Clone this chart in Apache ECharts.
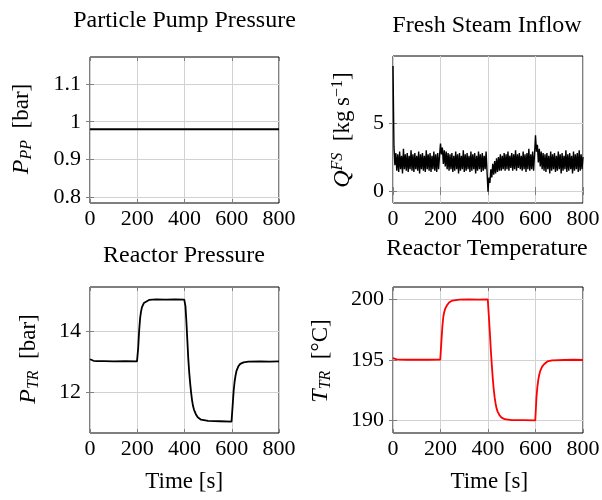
<!DOCTYPE html>
<html><head><meta charset="utf-8">
<script src="https://cdn.jsdelivr.net/npm/echarts@6/dist/echarts.min.js"></script>
<style>html,body{margin:0;padding:0;background:#fff}#c{width:602px;height:500px}</style>
</head><body><div id="c"></div>
<script>
const FONT = 'Liberation Serif';
const titles = ['Particle Pump Pressure', 'Fresh Steam Inflow', 'Reactor Pressure', 'Reactor Temperature'];
const xLabel = 'Time [s]';
const xTicks = [0, 200, 400, 600, 800];
const ppTicks = [0.8, 0.9, 1, 1.1];
const fsTicks = [0, 5];
const ptrTicks = [12, 14];
const ttrTicks = [190, 195, 200];

const ppTime = [0, 800];
const ppValues = [0.98, 0.98];

const fsStep = 4; // seconds between Fresh Steam samples
const fsValues = [
  9.2, 3.3, 1.9, 2.8, 1.5, 2.7, 1.4, 2.9, 1.6, 2.6,
  1.3, 3.1, 1.6, 2.7, 1.5, 2.8, 1.4, 2.6, 1.6, 3.0,
  1.5, 2.7, 1.4, 2.8, 1.6, 2.6, 1.5, 2.9, 1.3, 2.7,
  1.6, 2.8, 1.5, 2.6, 1.4, 3.0, 1.6, 2.7, 1.5, 2.8,
  1.4, 2.6, 1.6, 2.9, 1.5, 2.7, 1.4, 2.8, 1.6, 2.6,
  3.5, 2.7, 3.2, 2.0, 3.0, 1.8, 2.9, 1.6, 2.8, 1.5,
  2.7, 1.6, 2.8, 1.4, 2.6, 1.5, 2.9, 1.6, 2.7, 1.3,
  2.8, 1.5, 2.6, 1.6, 3.0, 1.4, 2.7, 1.5, 2.8, 1.6,
  2.6, 1.4, 2.9, 1.5, 2.7, 1.6, 2.8, 1.3, 2.6, 1.5,
  2.9, 1.6, 2.7, 1.4, 2.8, 1.5, 2.6, 1.6, 2.9, 1.4,
  -0.05, 1.0, 0.6, 1.6, 1.0, 2.0, 1.2, 2.2, 1.3, 2.4,
  1.4, 2.5, 1.5, 2.7, 1.5, 2.6, 1.6, 2.8, 1.5, 2.7,
  1.6, 2.9, 1.5, 2.6, 1.7, 2.8, 1.5, 2.7, 1.6, 3.0,
  1.5, 2.7, 1.7, 2.8, 1.6, 2.6, 1.5, 2.9, 1.6, 2.7,
  1.4, 2.8, 1.6, 3.1, 1.5, 2.7, 1.6, 2.9, 1.5, 2.7,
  4.1, 2.9, 3.4, 2.1, 3.1, 1.8, 2.9, 1.6, 2.8, 1.5,
  2.7, 1.4, 2.8, 1.6, 2.6, 1.3, 2.9, 1.5, 2.7, 1.6,
  2.8, 1.4, 2.6, 1.5, 2.9, 1.6, 2.7, 1.3, 2.8, 1.5,
  2.6, 1.6, 3.0, 1.4, 2.7, 1.5, 2.8, 1.6, 2.6, 1.3,
  2.9, 1.5, 2.7, 1.6, 2.8, 1.4, 3.0, 1.5, 2.7, 1.6,
  2.5
];

const stepTime = [0, 5, 15, 30, 60, 100, 150, 199, 200, 204, 208, 212, 216, 220, 228, 236, 250, 280, 320, 360, 399,
  400, 404, 408, 412, 416, 420, 424, 428, 432, 436, 440, 448, 456, 470, 500, 550, 599,
  600, 604, 608, 612, 616, 620, 628, 636, 650, 670, 720, 760, 800];
const ptrValues = [13.08, 13.05, 13.03, 13.02, 13.02, 13.01, 13.02, 13.01, 13.02, 13.45, 14.0, 14.4, 14.62, 14.77, 14.9, 14.96, 15.0, 15.02, 15.01, 15.02, 15.01,
  15.0, 14.8, 14.3, 13.7, 13.1, 12.65, 12.3, 12.0, 11.75, 11.57, 11.45, 11.3, 11.2, 11.12, 11.08, 11.07, 11.06,
  11.07, 11.6, 12.05, 12.35, 12.55, 12.7, 12.85, 12.93, 12.98, 13.0, 13.01, 13.0, 13.01];
const ttrValues = [195.15, 195.08, 195.05, 195.03, 195.02, 195.03, 195.02, 195.03, 195.03, 196.6, 197.8, 198.6, 199.0, 199.25, 199.55, 199.75, 199.92, 200.0, 200.02, 200.0, 200.02,
  200.0, 198.5, 197.2, 195.8, 194.6, 193.5, 192.6, 191.9, 191.4, 191.0, 190.75, 190.45, 190.25, 190.1, 190.03, 190.02, 190.0,
  190.02, 191.9, 192.8, 193.4, 193.8, 194.1, 194.45, 194.65, 194.88, 194.97, 195.0, 195.02, 195.0];

const grids = [
  {left: 90, top: 57, width: 189, height: 146},
  {left: 393, top: 56, width: 190, height: 147},
  {left: 90, top: 287, width: 189, height: 146},
  {left: 393, top: 287, width: 190, height: 146}
];
const yRanges = [[0.784, 1.172], [-0.88, 9.93], [10.69, 15.42], [188.96, 201.04]];
const yTicks = [ppTicks, fsTicks, ptrTicks, ttrTicks];

const pairs = (t, v) => v.map((y, i) => [t[i], y]);
const fsData = fsValues.map((y, i) => [i * fsStep, y]);

const tickStyle = {show: true, inside: true, length: 4, lineStyle: {color: '#7f7f7f', width: 1}};
const gridLine = {show: true, lineStyle: {color: '#d2d2d2', width: 1}};
const lab = {fontFamily: FONT, fontSize: 22, color: '#000'};

const xAxes = [], yAxes = [];
grids.forEach((g, i) => {
  xAxes.push({gridIndex: i, type: 'value', min: 0, max: 800, interval: 200, position: 'bottom',
    axisLine: {show: false}, axisTick: tickStyle, splitLine: gridLine,
    axisLabel: Object.assign({margin: 5}, lab)});
  xAxes.push({gridIndex: i, type: 'value', min: 0, max: 800, interval: 200, position: 'top',
    axisLine: {show: false}, axisTick: tickStyle, splitLine: {show: false}, axisLabel: {show: false}});
  yAxes.push({gridIndex: i, type: 'value', min: yRanges[i][0], max: yRanges[i][1], position: 'left',
    axisLine: {show: false}, axisTick: Object.assign({customValues: yTicks[i]}, tickStyle), splitLine: gridLine,
    axisLabel: Object.assign({margin: 9, customValues: yTicks[i]}, lab)});
  yAxes.push({gridIndex: i, type: 'value', min: yRanges[i][0], max: yRanges[i][1], position: 'right',
    axisLine: {show: false}, axisTick: Object.assign({customValues: yTicks[i]}, tickStyle), splitLine: {show: false},
    axisLabel: {show: false}});
});

const mkSeries = (i, data, color, w) => ({type: 'line', xAxisIndex: 2 * i, yAxisIndex: 2 * i, data: data,
  showSymbol: false, symbol: 'none', clip: true, lineStyle: {color: color, width: w}, z: 5});

const rich = {
  i: {fontFamily: FONT, fontStyle: 'italic', fontSize: 24, color: '#000'},
  s: {fontFamily: FONT, fontStyle: 'italic', fontSize: 16, color: '#000', padding: [9, 0, 0, 0]},
  p: {fontFamily: FONT, fontStyle: 'italic', fontSize: 16, color: '#000', padding: [0, 0, 11, 0]},
  u: {fontFamily: FONT, fontSize: 16, color: '#000', padding: [0, 0, 11, 0]},
  n: {fontFamily: FONT, fontSize: 23, color: '#000'}
};
const yLabels = [
  {text: '{i|P}{s|PP} {n| [bar]}', x: 22, y: 129},
  {text: '{i|Q}{p|FS} {n| [kg\u2009s}{u|\u22121}{n|]}', x: 343, y: 130},
  {text: '{i|P}{s|TR} {n| [bar]}', x: 29, y: 359},
  {text: '{i|T}{s|TR} {n| [°C]}', x: 321, y: 361}
];
const titlePos = [[184.5, 21], [487, 25.5], [184, 256], [487, 249]];

const graphic = [];
titles.forEach((t, i) => graphic.push({type: 'text', x: titlePos[i][0], y: titlePos[i][1], silent: true,
  style: {text: t, fontFamily: FONT, fontSize: 24, fill: '#000', textAlign: 'center', textVerticalAlign: 'middle'}}));
[[184.2, 481.7], [489.3, 481.7]].forEach(p => graphic.push({type: 'text', x: p[0], y: p[1], silent: true,
  style: {text: xLabel, fontFamily: FONT, fontSize: 23, fill: '#000', textAlign: 'center', textVerticalAlign: 'middle'}}));
yLabels.forEach(l => graphic.push({type: 'text', x: l.x, y: l.y, rotation: Math.PI / 2, silent: true,
  style: {text: l.text, rich: rich, fontFamily: FONT, fontSize: 23, fill: '#000', textAlign: 'center', textVerticalAlign: 'middle'}}));

const chart = echarts.init(document.getElementById('c'), null, {renderer: 'canvas'});
chart.setOption({
  animation: false,
  backgroundColor: '#fff',
  grid: grids.map(g => Object.assign({show: true, borderColor: '#000', borderWidth: 1, backgroundColor: 'transparent',
    containLabel: false, outerBoundsMode: 'none'}, g)),
  xAxis: xAxes,
  yAxis: yAxes,
  series: [
    mkSeries(0, pairs(ppTime, ppValues), '#000', 2),
    mkSeries(1, fsData, '#000', 1.4),
    mkSeries(2, pairs(stepTime, ptrValues), '#000', 1.8),
    mkSeries(3, pairs(stepTime, ttrValues), '#ff0000', 1.8)
  ],
  graphic: graphic
});
</script></body></html>
